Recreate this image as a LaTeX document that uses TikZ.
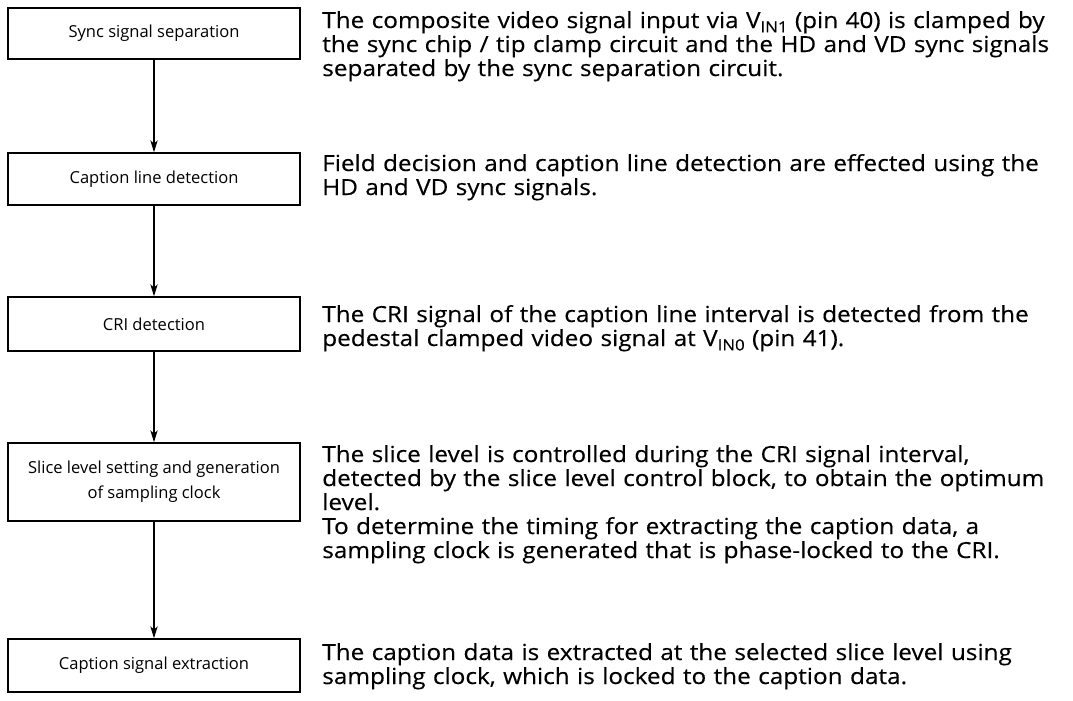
\documentclass[tikz,border=0pt]{standalone}
\usepackage{fontspec}
\setmainfont{Open Sans}
\newfontfamily\descfont[FakeStretch=1.10,FakeBold=0.3]{Open Sans}
\usetikzlibrary{arrows.meta}
\newcommand{\sbs}[1]{\raisebox{-0.2em}{\fontsize{11.5pt}{11.5pt}\selectfont #1}}
\tikzset{
  stepbox/.style={draw, line width=1.1pt, minimum width=219pt, inner sep=2pt,
    align=center, font=\fontsize{12.4pt}{18.5pt}\selectfont},
  desc/.style={anchor=base west, inner sep=0pt, text width=600pt, align=left,
    font=\descfont\fontsize{16.6pt}{18pt}\selectfont},
  flow/.style={line width=1.1pt, -{Stealth[length=9pt,width=5.5pt,inset=2.5pt]}}
}
\begin{document}
\begin{tikzpicture}[x=0.75pt,y=-0.75pt]
\useasboundingbox (0,0) rectangle (1073,700);
\node[stepbox, minimum height=38.25pt] (b1) at (154,33.5) {Sync signal separation};
\node[stepbox, minimum height=39pt] (b2) at (154,179) {Caption line detection};
\node[stepbox, minimum height=40.5pt] (b3) at (154,324) {CRI detection};
\node[stepbox, minimum height=58.5pt] (b4) at (154,482) {Slice level setting and generation\\of sampling clock};
\node[stepbox, minimum height=39.75pt] (b5) at (154,665.5) {Caption signal extraction};

\node[desc] (t1) at (322,28) {The composite video signal input via V\sbs{IN1} (pin 40) is clamped by\\the sync chip / tip clamp circuit and the HD and VD sync signals\\separated by the sync separation circuit.};
\node[desc] (t2) at (322,171) {Field decision and caption line detection are effected using the\\HD and VD sync signals.};
\node[desc] (t3) at (322,322) {The CRI signal of the caption line interval is detected from the\\pedestal clamped video signal at V\sbs{IN0} (pin 41).};
\node[desc] (t4) at (322,462) {The slice level is controlled during the CRI signal interval,\\detected by the slice level control block, to obtain the optimum\\level.\\To determine the timing for extracting the caption data, a\\sampling clock is generated that is phase-locked to the CRI.};
\node[desc] (t5) at (322,660) {The caption data is extracted at the selected slice level using\\sampling clock, which is locked to the caption data.};

\draw[flow] (b1) -- (b2);
\draw[flow] (b2) -- (b3);
\draw[flow] (b3) -- (b4);
\draw[flow] (b4) -- (b5);
\end{tikzpicture}
\end{document}
